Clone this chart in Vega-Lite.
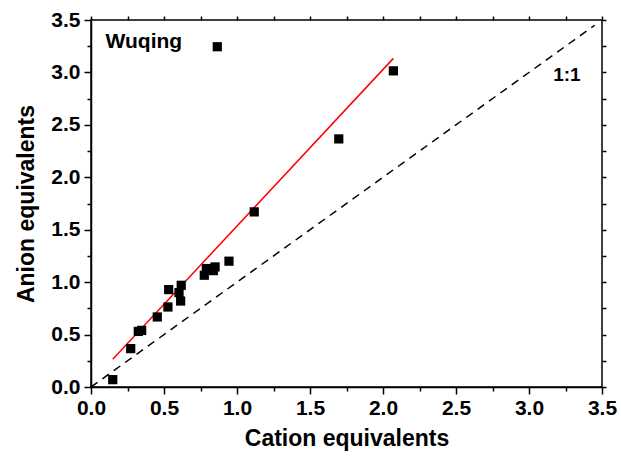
{
  "$schema": "https://vega.github.io/schema/vega-lite/v6.json",
  "width": 511,
  "height": 367,
  "autosize": {"type": "none"},
  "padding": {"left": 91, "top": 20, "right": 19, "bottom": 77},
  "background": "white",
  "config": {
    "view": {"stroke": "black", "strokeWidth": 1.5},
    "font": "Liberation Sans",
    "axis": {
      "grid": false,
      "domainColor": "black",
      "domainWidth": 1.5,
      "tickColor": "black",
      "tickWidth": 1.5,
      "labelFont": "Liberation Sans",
      "labelFontWeight": "bold",
      "labelFontSize": 21,
      "labelColor": "black",
      "labelFlush": false,
      "labelOverlap": false,
      "titleFont": "Liberation Sans",
      "titleFontWeight": "bold",
      "titleFontSize": 23,
      "titleColor": "black"
    }
  },
  "datasets": {
    "samples": [
      {"cation": 0.149, "anion": 0.07},
      {"cation": 0.272, "anion": 0.366},
      {"cation": 0.324, "anion": 0.53},
      {"cation": 0.347, "anion": 0.54},
      {"cation": 0.454, "anion": 0.668},
      {"cation": 0.527, "anion": 0.763},
      {"cation": 0.532, "anion": 0.929},
      {"cation": 0.603, "anion": 0.9},
      {"cation": 0.614, "anion": 0.82},
      {"cation": 0.618, "anion": 0.97},
      {"cation": 0.776, "anion": 1.066},
      {"cation": 0.79, "anion": 1.13},
      {"cation": 0.838, "anion": 1.11},
      {"cation": 0.85, "anion": 1.145},
      {"cation": 0.945, "anion": 1.2},
      {"cation": 1.118, "anion": 1.67},
      {"cation": 1.697, "anion": 2.366},
      {"cation": 2.071, "anion": 3.015},
      {"cation": 0.865, "anion": 3.245}
    ],
    "fit": [
      {"cation": 0.149, "anion": 0.264},
      {"cation": 2.071, "anion": 3.134}
    ],
    "oneToOne": [
      {"cation": 0, "anion": 0},
      {"cation": 3.45, "anion": 3.45}
    ],
    "site": [
      {"cation": 0.1, "anion": 3.29, "text": "Wuqing"}
    ],
    "ratio": [
      {"cation": 3.26, "anion": 2.98, "text": "1:1"}
    ]
  },
  "resolve": {"axis": {"x": "independent", "y": "independent"}},
  "layer": [
    {
      "data": {"name": "oneToOne"},
      "mark": {"type": "line", "color": "black", "strokeWidth": 1.5, "strokeDash": [8, 6], "clip": true},
      "encoding": {
        "x": {
          "field": "cation", "type": "quantitative",
          "scale": {"domain": [0, 3.5], "nice": false, "zero": false},
          "axis": {
            "orient": "top", "title": null, "labels": false, "domain": false,
            "values": [0, 0.25, 0.5, 0.75, 1, 1.25, 1.5, 1.75, 2, 2.25, 2.5, 2.75, 3, 3.25, 3.5],
            "tickSize": 4
          }
        },
        "y": {
          "field": "anion", "type": "quantitative",
          "scale": {"domain": [0, 3.5], "nice": false, "zero": false},
          "axis": {
            "orient": "right", "title": null, "labels": false, "domain": false,
            "values": [0, 0.25, 0.5, 0.75, 1, 1.25, 1.5, 1.75, 2, 2.25, 2.5, 2.75, 3, 3.25, 3.5],
            "tickSize": 4
          }
        }
      }
    },
    {
      "data": {"name": "fit"},
      "mark": {"type": "line", "color": "#ff0000", "strokeWidth": 1.5},
      "encoding": {
        "x": {"field": "cation", "type": "quantitative", "axis": null},
        "y": {"field": "anion", "type": "quantitative", "axis": null}
      }
    },
    {
      "data": {"name": "samples"},
      "mark": {"type": "square", "color": "black", "opacity": 1, "size": 85},
      "encoding": {
        "x": {
          "field": "cation", "type": "quantitative",
          "title": "Cation equivalents",
          "axis": {
            "orient": "bottom",
            "values": [0, 0.25, 0.5, 0.75, 1, 1.25, 1.5, 1.75, 2, 2.25, 2.5, 2.75, 3, 3.25, 3.5],
            "labelExpr": "(datum.value * 2) % 1 ? '' : format(datum.value, '.1f')",
            "tickSize": {"condition": {"test": "(datum.value * 2) % 1", "value": 4}, "value": 7},
            "labelPadding": 3,
            "titlePadding": 9
          }
        },
        "y": {
          "field": "anion", "type": "quantitative",
          "title": "Anion equivalents",
          "axis": {
            "orient": "left",
            "values": [0, 0.25, 0.5, 0.75, 1, 1.25, 1.5, 1.75, 2, 2.25, 2.5, 2.75, 3, 3.25, 3.5],
            "labelExpr": "(datum.value * 2) % 1 ? '' : format(datum.value, '.1f')",
            "tickSize": {"condition": {"test": "(datum.value * 2) % 1", "value": 4}, "value": 7},
            "labelPadding": 4,
            "titlePadding": 12
          }
        }
      }
    },
    {
      "data": {"name": "site"},
      "mark": {"type": "text", "font": "Liberation Sans", "fontWeight": "bold", "fontSize": 21, "color": "black", "align": "left", "baseline": "middle"},
      "encoding": {
        "x": {"field": "cation", "type": "quantitative", "axis": null},
        "y": {"field": "anion", "type": "quantitative", "axis": null},
        "text": {"field": "text"}
      }
    },
    {
      "data": {"name": "ratio"},
      "mark": {"type": "text", "font": "Liberation Sans", "fontWeight": "bold", "fontSize": 19, "color": "black", "align": "center", "baseline": "middle"},
      "encoding": {
        "x": {"field": "cation", "type": "quantitative", "axis": null},
        "y": {"field": "anion", "type": "quantitative", "axis": null},
        "text": {"field": "text"}
      }
    }
  ]
}
